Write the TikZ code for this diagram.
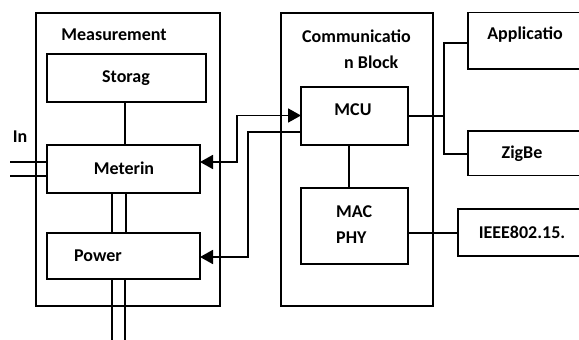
\documentclass[tikz,border=0pt]{standalone}
\usepackage{fontspec}
\setmainfont{Carlito}
\usetikzlibrary{arrows.meta}
\begin{document}
\begin{tikzpicture}[x=1pt,y=-1pt,
  box/.style={draw=black,line width=1.2pt,minimum width=#1,inner sep=0pt},
  lbl/.style={font=\fontsize{18}{21}\selectfont\bfseries,inner sep=0pt,anchor=center},
  lbll/.style={font=\fontsize{18}{21}\selectfont\bfseries,inner sep=0pt,anchor=west},
  conn/.style={line width=1.8pt},
  thin conn/.style={line width=1.2pt},
  bigtri/.tip={Triangle[length=13pt,width=14pt]},
  tip/.style={-bigtri}]
\useasboundingbox (0,0) rectangle (579,340);
% boxes
\node[box=184pt,minimum height=293pt] (meas) at (128,159.4) {};
\node[box=159pt,minimum height=48pt] (stor) at (126.5,78) {};
\node[box=153pt,minimum height=48pt] (met) at (123.5,169) {};
\node[box=153pt,minimum height=46pt] (pow) at (123.5,256) {};
\node[box=152pt,minimum height=293pt] (comm) at (357,159.4) {};
\node[box=107pt,minimum height=58pt] (mcu) at (354.5,116) {};
\node[box=107pt,minimum height=76pt] (mac) at (354.5,226) {};
% open boxes on the right edge
\draw[line width=1.2pt] (579,12.7) -- (468,12.7) -- (468,69) -- (579,69);
\draw[line width=1.2pt] (579,131) -- (468,131) -- (468,175.7) -- (579,175.7);
\draw[line width=1.2pt] (579,209) -- (458,209) -- (458,256) -- (579,256);
\coordinate (app) at (468,43);
\coordinate (zig) at (468,154);
\coordinate (ieee) at (458,232.7);
% texts
\node[lbl] (tmeas) at (114,35) {Measurement};
\node[lbl] (tstor) at (126,78) {Storag};
\node[lbl] (tmet) at (124,168) {Meterin};
\node[lbl] (tpow) at (98,256) {Power};
\node[lbll] (tcomm) at (302,36) {Communicatio};
\node[lbll] (tcomm2) at (344,62) {n Block};
\node[lbl] (tmcu) at (353,110) {MCU};
\node[lbll] (tmac) at (336,212) {MAC};
\node[lbll] (tphy) at (336,238) {PHY};
\node[lbl] (tapp) at (525,35) {Applicatio};
\node[lbl] (tzig) at (522,154) {ZigBe};
\node[lbl] (tieee) at (522,232) {IEEE802.15.};
\node[lbl] (tin) at (20,137) {In};
% named coordinates for connector ends
\coordinate (metA) at (200,162);
\coordinate (mcuA) at (301,115.5);
\coordinate (mcuB) at (301,131.7);
\coordinate (powA) at (200,257);
\coordinate (inA) at (10,162);
\coordinate (inB) at (10,176);
\coordinate (metL1) at (47,162);
\coordinate (metL2) at (47,176);
\coordinate (bot1) at (112,340);
\coordinate (bot2) at (125,340);
\coordinate (mcuR) at (408,116);
\coordinate (macR) at (408,232.7);
% connectors
\draw[conn,bigtri-bigtri] (metA) -- (237,162) -- (237,115.5) -- (mcuA);
\draw[conn,tip] (mcuB) -- (248,131.7) -- (248,257) -- (powA);
\draw[thin conn] (125,102) -- (125,145);
\draw[thin conn] (112,193) -- (112,233);
\draw[thin conn] (126,193) -- (126,233);
\draw[thin conn] (112,279) -- (bot1);
\draw[thin conn] (125,279) -- (bot2);
\draw[conn] (inA) -- (metL1);
\draw[conn] (inB) -- (metL2);
\draw[thin conn] (349,145) -- (349,188);
\draw[conn] (mcuR) -- (444,116);
\draw[conn] (app) -- (444,43) -- (444,154) -- (zig);
\draw[conn] (macR) -- (ieee);
\end{tikzpicture}
\end{document}
